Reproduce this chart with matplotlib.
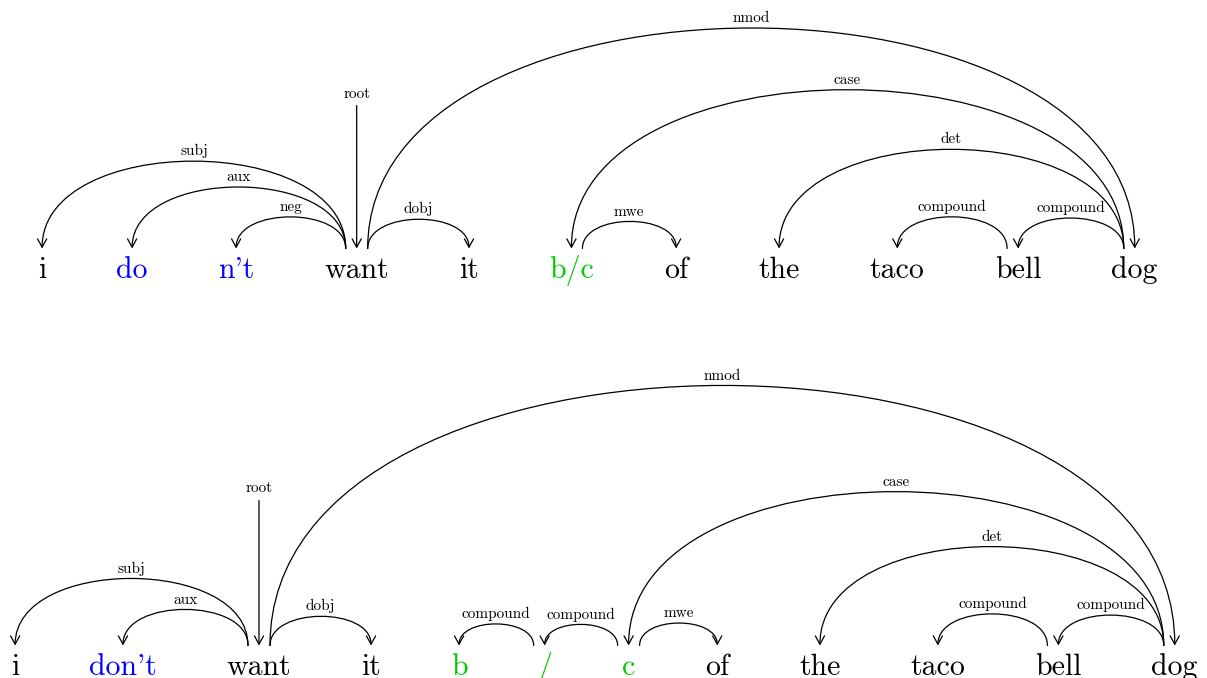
import matplotlib
matplotlib.use("Agg")
import matplotlib.pyplot as plt
from matplotlib.patches import FancyArrowPatch
from matplotlib.path import Path

# ---------------- data ----------------
top_words = ["i", "do", "n't", "want", "it", "b/c", "of", "the", "taco", "bell", "dog"]
top_highlight = ["", "blue", "blue", "", "", "green", "", "", "", "", ""]
top_root = 3
top_arcs = [  # (head, dependent, label)
    (3, 0, "subj"), (3, 1, "aux"), (3, 2, "neg"), (3, 4, "dobj"),
    (3, 10, "nmod"), (10, 5, "case"), (5, 6, "mwe"), (10, 7, "det"),
    (9, 8, "compound"), (10, 9, "compound"),
]

bot_words = ["i", "don't", "want", "it", "b", "/", "c", "of", "the", "taco", "bell", "dog"]
bot_highlight = ["", "blue", "", "", "green", "green", "green", "", "", "", "", ""]
bot_root = 2
bot_arcs = [
    (2, 0, "subj"), (2, 1, "aux"), (2, 3, "dobj"), (2, 11, "nmod"),
    (5, 4, "compound"), (6, 5, "compound"), (6, 7, "mwe"),
    (11, 6, "case"), (11, 8, "det"), (10, 9, "compound"), (11, 10, "compound"),
]

# ---------------- style / layout ----------------
W, H = 1207, 678
WORD_FONT = 21.5
LABEL_FONT = 11
FAMILY = "cmr10"
COLORS = {"": "black", "blue": "#0000ff", "green": "#00cc00"}
ARC_K = 0.383          # control height relative to arc length
OUT_OFF = 11           # outgoing edge offset from word centre
LW = 0.9

rows = [
    dict(words=top_words, hl=top_highlight, root=top_root, arcs=top_arcs,
         baseline=278, left=38, right=1158, root_len=143),
    dict(words=bot_words, hl=bot_highlight, root=bot_root, arcs=bot_arcs,
         baseline=675, left=11, right=1198, root_len=145),
]

fig = plt.figure(figsize=(W / 100, H / 100), dpi=100)
ax = fig.add_axes([0, 0, 1, 1])
ax.set_xlim(0, W)
ax.set_ylim(H, 0)
ax.axis("off")

renderer = fig.canvas.get_renderer()


def word_widths(words):
    ws = []
    for w in words:
        t = ax.text(0, 0, w, fontsize=WORD_FONT, family=FAMILY)
        ws.append(t.get_window_extent(renderer).width)
        t.remove()
    return ws


def arrow_style():
    return "->,head_length=0.6,head_width=0.33"


for row in rows:
    words = row["words"]
    ws = word_widths(words)
    n = len(words)
    gap = (row["right"] - row["left"] - sum(ws)) / (n - 1)
    xs = []
    cur = row["left"]
    for w in ws:
        xs.append(cur + w / 2)
        cur += w + gap
    base_text = row["baseline"]
    base_arc = base_text - 29.5

    for x, w, hl in zip(xs, words, row["hl"]):
        ax.text(x, base_text, w, fontsize=WORD_FONT, family=FAMILY,
                color=COLORS[hl], ha="center", va="baseline")

    # root
    rx = xs[row["root"]]
    top = base_arc - row["root_len"]
    ax.add_patch(FancyArrowPatch((rx, top), (rx, base_arc), arrowstyle=arrow_style(),
                                 mutation_scale=10, lw=LW, color="black",
                                 shrinkA=0, shrinkB=0))
    ax.text(rx, top - 5, "root", fontsize=LABEL_FONT, family=FAMILY,
            ha="center", va="bottom")

    for head, dep, lab in row["arcs"]:
        d = 1 if dep > head else -1
        x0 = xs[head] + d * OUT_OFF
        x3 = xs[dep]
        L = abs(x3 - x0)
        hc = ARC_K * L
        verts = [(x0, base_arc), (x0, base_arc - hc), (x3, base_arc - hc), (x3, base_arc)]
        path = Path(verts, [Path.MOVETO, Path.CURVE4, Path.CURVE4, Path.CURVE4])
        ax.add_patch(FancyArrowPatch(path=path, arrowstyle=arrow_style(),
                                     mutation_scale=10, lw=LW, color="black",
                                     shrinkA=0, shrinkB=0))
        peak = base_arc - 0.75 * hc
        ax.text((x0 + x3) / 2, peak - 3, lab, fontsize=LABEL_FONT, family=FAMILY,
                ha="center", va="bottom")

fig.savefig("out.png", dpi=100)
